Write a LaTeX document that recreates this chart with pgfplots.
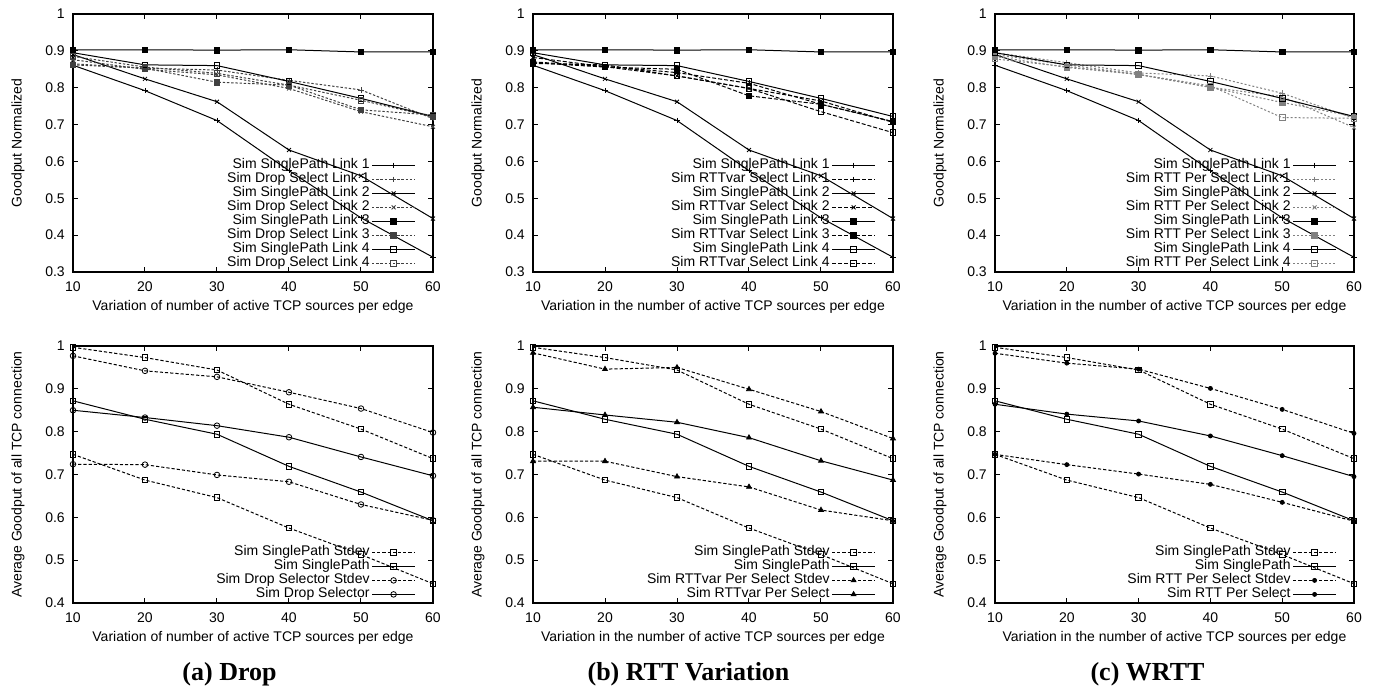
\documentclass[border=0pt]{standalone}
\usepackage{fontspec}
\setmainfont{Liberation Sans}
\newfontfamily\capfont{Liberation Serif}
\usepackage{pgfplots}
\pgfplotsset{compat=1.18}

\pgfplotsset{
  panel/.style={
    scale only axis, width=180pt,
    xmin=10, xmax=60, xtick={10,20,30,40,50,60},
    tick align=inside, major tick length=2.5pt,
    axis line style={line width=0.6pt},
    tick style={line width=0.5pt, black},
    font=\fontsize{7}{8}\selectfont,
    /pgf/number format/assume math mode=true,
    yticklabel style={/pgf/number format/fixed, /pgf/number format/precision=1, xshift=-0.6pt},
    xticklabel style={yshift=-1.4pt},
    xlabel style={at={(axis description cs:0.5,-0.136)}, anchor=center},
    ylabel style={at={(axis description cs:-0.153,0.5)}, anchor=center},
    legend plot pos=right,
    legend cell align=right,
    legend style={draw=none, fill=none, at={(rel axis cs:1,0)}, anchor=south east,
      xshift=-8.5pt, yshift=0.8pt, inner sep=0pt, row sep=0.4pt, column sep=1pt,
      nodes={inner sep=0pt, text height=5.1pt, text depth=1.5pt},
      font=\fontsize{7}{8}\selectfont},
    legend image code/.code={\draw[mark repeat=2,mark phase=2,#1]
      plot coordinates {(0pt,0pt) (10.75pt,0pt) (21.5pt,0pt)};},
    every axis plot/.append style={line width=0.5pt, mark size=1.4pt,
      mark options={solid, line width=0.4pt}},
  },
  top/.style={panel, height=129pt, ymin=0.3, ymax=1,
    ytick={0.3,0.4,0.5,0.6,0.7,0.8,0.9,1}, ylabel={Goodput Normalized}},
  bot/.style={panel, height=128.5pt, ymin=0.4, ymax=1,
    ytick={0.4,0.5,0.6,0.7,0.8,0.9,1}, ylabel={Average Goodput of all TCP connection}},
  sp/.style={black, solid},
  selA/.style={black!75, dash pattern=on 1.2pt off 0.9pt},
  selB/.style={black, dash pattern=on 2pt off 1pt},
  selC/.style={black!50, dash pattern=on 1pt off 1pt},
  sd/.style={black, dash pattern=on 1.6pt off 1pt},
}

% single path series, shared by the three top panels
\newcommand{\spone}{\addplot[sp, mark=+] coordinates {(10,0.861) (20,0.792) (30,0.711) (40,0.575) (50,0.447) (60,0.340)};}
\newcommand{\sptwo}{\addplot[sp, mark=x] coordinates {(10,0.890) (20,0.824) (30,0.762) (40,0.631) (50,0.561) (60,0.445)};}
\newcommand{\spthree}{\addplot[sp, mark=square*] coordinates {(10,0.903) (20,0.903) (30,0.902) (40,0.903) (50,0.897) (60,0.897)};}
\newcommand{\spfour}{\addplot[sp, mark=square] coordinates {(10,0.895) (20,0.862) (30,0.860) (40,0.817) (50,0.771) (60,0.722)};}
% single path mean / stdev, shared by the three bottom panels
\newcommand{\spbottom}{%
  \addplot[sd, mark=square] coordinates {(10,0.997) (20,0.973) (30,0.944) (40,0.864) (50,0.806) (60,0.737)};
  \addplot[sp, mark=square] coordinates {(10,0.872) (20,0.829) (30,0.794) (40,0.719) (50,0.659) (60,0.592)};
  \addplot[sd, mark=square, forget plot] coordinates {(10,0.747) (20,0.687) (30,0.646) (40,0.575) (50,0.513) (60,0.445)};}

\begin{document}
\begin{tikzpicture}
\useasboundingbox (0,0) rectangle (688.5pt,-343pt);

% ---------- (a) top
\begin{axis}[top, at={(36.5pt,-7pt)}, anchor=north west,
  xlabel={Variation of number of active TCP sources per edge}]
\spone
\addplot[selA, mark=+] coordinates {(10,0.865) (20,0.853) (30,0.848) (40,0.820) (50,0.794) (60,0.716)};
\sptwo
\addplot[selA, mark=x] coordinates {(10,0.876) (20,0.850) (30,0.835) (40,0.798) (50,0.735) (60,0.694)};
\spthree
\addplot[selA, mark=square*] coordinates {(10,0.862) (20,0.853) (30,0.815) (40,0.807) (50,0.740) (60,0.726)};
\spfour
\addplot[selA, mark=square] coordinates {(10,0.885) (20,0.856) (30,0.839) (40,0.807) (50,0.766) (60,0.721)};
\legend{Sim SinglePath Link 1, Sim Drop Select Link 1, Sim SinglePath Link 2, Sim Drop Select Link 2,
  Sim SinglePath Link 3, Sim Drop Select Link 3, Sim SinglePath Link 4, Sim Drop Select Link 4}
\end{axis}

% ---------- (b) top
\begin{axis}[top, at={(266.5pt,-7pt)}, anchor=north west,
  xlabel={Variation in the number of active TCP sources per edge}]
\spone
\addplot[selB, mark=+] coordinates {(10,0.870) (20,0.858) (30,0.841) (40,0.812) (50,0.755) (60,0.708)};
\sptwo
\addplot[selB, mark=x] coordinates {(10,0.882) (20,0.857) (30,0.832) (40,0.798) (50,0.764) (60,0.706)};
\spthree
\addplot[selB, mark=square*] coordinates {(10,0.868) (20,0.856) (30,0.850) (40,0.778) (50,0.755) (60,0.708)};
\spfour
\addplot[selB, mark=square] coordinates {(10,0.866) (20,0.862) (30,0.832) (40,0.798) (50,0.735) (60,0.678)};
\legend{Sim SinglePath Link 1, Sim RTTvar Select Link 1, Sim SinglePath Link 2, Sim RTTvar Select Link 2,
  Sim SinglePath Link 3, Sim RTTvar Select Link 3, Sim SinglePath Link 4, Sim RTTvar Select Link 4}
\end{axis}

% ---------- (c) top
\begin{axis}[top, at={(497.5pt,-7pt)}, anchor=north west, width=179.5pt,
  xlabel={Variation in the number of active TCP sources per edge}]
\spone
\addplot[selC, mark=+] coordinates {(10,0.895) (20,0.868) (30,0.840) (40,0.832) (50,0.785) (60,0.717)};
\sptwo
\addplot[selC, mark=x] coordinates {(10,0.890) (20,0.862) (30,0.836) (40,0.801) (50,0.776) (60,0.692)};
\spthree
\addplot[selC, mark=square*] coordinates {(10,0.885) (20,0.855) (30,0.836) (40,0.801) (50,0.760) (60,0.722)};
\spfour
\addplot[selC, mark=square] coordinates {(10,0.878) (20,0.857) (30,0.836) (40,0.805) (50,0.719) (60,0.717)};
\legend{Sim SinglePath Link 1, Sim RTT Per Select Link 1, Sim SinglePath Link 2, Sim RTT Per Select Link 2,
  Sim SinglePath Link 3, Sim RTT Per Select Link 3, Sim SinglePath Link 4, Sim RTT Per Select Link 4}
\end{axis}

% ---------- (a) bottom
\begin{axis}[bot, at={(36.5pt,-173pt)}, anchor=north west,
  xlabel={Variation of number of active TCP sources per edge}]
\spbottom
\addplot[sd, mark=o] coordinates {(10,0.977) (20,0.942) (30,0.928) (40,0.892) (50,0.854) (60,0.798)};
\addplot[sp, mark=o] coordinates {(10,0.850) (20,0.833) (30,0.814) (40,0.787) (50,0.741) (60,0.697)};
\addplot[sd, mark=o, forget plot] coordinates {(10,0.724) (20,0.723) (30,0.699) (40,0.683) (50,0.630) (60,0.593)};
\legend{Sim SinglePath Stdev, Sim SinglePath, Sim Drop Selector Stdev, Sim Drop Selector}
\end{axis}

% ---------- (b) bottom
\begin{axis}[bot, at={(266.5pt,-173pt)}, anchor=north west,
  xlabel={Variation in the number of active TCP sources per edge}]
\spbottom
\addplot[sd, mark=triangle*] coordinates {(10,0.984) (20,0.946) (30,0.950) (40,0.899) (50,0.847) (60,0.784)};
\addplot[sp, mark=triangle*] coordinates {(10,0.857) (20,0.839) (30,0.822) (40,0.786) (50,0.732) (60,0.687)};
\addplot[sd, mark=triangle*, forget plot] coordinates {(10,0.731) (20,0.731) (30,0.695) (40,0.671) (50,0.617) (60,0.592)};
\legend{Sim SinglePath Stdev, Sim SinglePath, Sim RTTvar Per Select Stdev, Sim RTTvar Per Select}
\end{axis}

% ---------- (c) bottom
\begin{axis}[bot, at={(497.5pt,-173pt)}, anchor=north west, width=179.5pt,
  xlabel={Variation in the number of active TCP sources per edge}]
\spbottom
\addplot[sd, mark=*, mark size=1pt] coordinates {(10,0.983) (20,0.960) (30,0.946) (40,0.901) (50,0.852) (60,0.796)};
\addplot[sp, mark=*, mark size=1pt] coordinates {(10,0.864) (20,0.841) (30,0.825) (40,0.790) (50,0.744) (60,0.695)};
\addplot[sd, mark=*, mark size=1pt, forget plot] coordinates {(10,0.747) (20,0.723) (30,0.701) (40,0.677) (50,0.635) (60,0.591)};
\legend{Sim SinglePath Stdev, Sim SinglePath, Sim RTT Per Select Stdev, Sim RTT Per Select}
\end{axis}

% sub-figure captions
\node[font=\capfont\bfseries\fontsize{13}{15}\selectfont, anchor=base] at (114.75pt,-340pt) {(a) Drop};
\node[font=\capfont\bfseries\fontsize{13}{15}\selectfont, anchor=base] at (344.25pt,-340pt) {(b) RTT Variation};
\node[font=\capfont\bfseries\fontsize{13}{15}\selectfont, anchor=base] at (573.75pt,-340pt) {(c) WRTT};
\end{tikzpicture}
\end{document}
